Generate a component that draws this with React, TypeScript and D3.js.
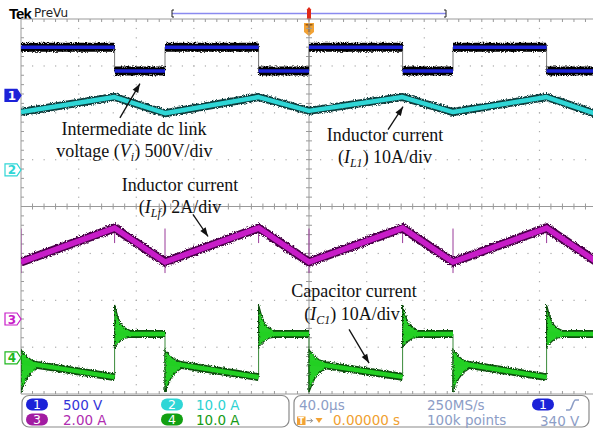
import React from 'react'
import * as d3 from 'd3'

// switching instants in the record, µs from the trigger point
const edgeTimes = [-200, -135, -100, -35, 0, 65, 100, 165, 200]

// channel settings: volts or amps per division, ground marker position (div)
const channelScales = [500, 10, 2, 10]
const channelOffsets = [2.37, 0.78, -2.4, -3.23]
const channelLabels = ['1', '2', '3', '4']
const channelSettings = ['500 V', '10.0 A', '2.00 A', '10.0 A']

// CH1 intermediate dc link voltage, one level per interval (V)
const ch1Levels = [515, 260, 515, 260, 515, 260, 515, 260]
// CH2 inductor current IL1 at each edge (A)
const ch2Values = [12.35, 15.55, 12.1, 15.55, 12.6, 15.55, 12.35, 15.55, 11.9]
// CH3 inductor current ILf at each edge (A), plus the small switching spikes
const ch3Values = [2.43, 3.88, 2.43, 3.88, 2.43, 3.88, 2.43, 3.88, 2.43]
const ch3SpikeTop = [3.86, 3.88, 3.86, 3.88, 3.86, 3.88, 3.86, 3.88, 3.86]
const ch3SpikeBottom = [1.96, 3.24, 1.96, 3.24, 1.96, 3.24, 1.96, 3.24, 1.96]
// CH4 capacitor current IC1, value at start and end of every interval (A)
const ch4Start = [-1.0, 5.1, -1.0, 5.1, -1.1, 5.1, -1.0, 5.1]
const ch4End = [-4.1, 5.1, -4.1, 5.1, -4.05, 5.1, -4.1, 5.1]
// ringing envelope after a CH4 step: µs after edge, upper and lower (A)
const ringT = [0, 0.6, 2, 4, 7, 11]
const riseRingHi = [11.3, 10.6, 9.0, 7.4, 6.4, 5.8]
const riseRingLo = [2.0, 2.6, 3.0, 3.6, 4.2, 4.4]
const fallRingHi = [1.8, 1.5, 1.0, 0.3, -0.4, -0.8]
const fallRingLo = [-7.3, -6.8, -5.8, -4.4, -3.2, -2.3]

// annotation texts, placed in (µs, div) coordinates
const notes = [
  { t: -121.5, d: 1.53, parts: [['Intermediate dc link', '']] },
  { t: -121.2, d: 1.06, parts: [['voltage (', ''], ['V', 'i'], ['i', 'sub'], [') 500V/div', '']] },
  { t: 52.8, d: 1.4, parts: [['Inductor current', '']] },
  { t: 52.8, d: 0.93, parts: [['(', ''], ['I', 'i'], ['L1', 'sub'], [') 10A/div', '']] },
  { t: -89.6, d: 0.34, parts: [['Inductor current', '']] },
  { t: -89.6, d: -0.13, parts: [['(', ''], ['I', 'i'], ['Lf', 'sub'], [') 2A/div', '']] },
  { t: 31.3, d: -1.94, parts: [['Capacitor current', '']] },
  { t: 29.9, d: -2.43, parts: [['(', ''], ['I', 'i'], ['C1', 'sub'], [') 10A/div', '']] },
]
// arrows: tail then head, (µs, div)
const arrows = [
  [-131.3, 1.89, -117.4, 2.62],
  [54.9, 1.64, 65.3, 2.13],
  [-80.6, -0.17, -70.1, -0.64],
  [27.8, -2.62, 41.7, -3.34],
]

const colors = ['#1c22d8', '#2fd6d6', '#c81cc8', '#1fb81f']
const darkBand = ['#000000', '#0d3d3d', '#4a0048', '#0b4d0b']

export default function App() {
  const W = 593
  const H = 432
  const x = d3.scaleLinear().domain([-200, 200]).range([21, 597])
  const y = d3.scaleLinear().domain([-4, 4]).range([394, 19])
  const cy = (ch: number, v: number) => y(v / channelScales[ch] + channelOffsets[ch])
  const line = (ch: number) =>
    d3.line<[number, number]>().x(d => x(d[0])).y(d => cy(ch, d[1]))

  const left = x(-200), right = x(200), top = y(4), bottom = y(-4)
  const dx = (x(40) - x(0)) / 5
  const dy = (y(0) - y(1)) / 5

  // graticule
  const grid: JSX.Element[] = []
  d3.range(1, 10).filter(i => i !== 5).forEach(i => {
    d3.range(1, 40).forEach(k => {
      grid.push(<rect key={'v' + i + '-' + k} x={x(-200 + 40 * i) - 0.5} y={top + k * dy - 0.5} width={1.2} height={1.2} fill="#ababab" />)
    })
  })
  d3.range(-3, 4).filter(j => j !== 0).forEach(j => {
    d3.range(1, 50).forEach(k => {
      grid.push(<rect key={'h' + j + '-' + k} x={left + k * dx - 0.5} y={y(j) - 0.5} width={1.2} height={1.2} fill="#ababab" />)
    })
  })
  const ticks: JSX.Element[] = []
  d3.range(1, 50).forEach(k => {
    const px = left + k * dx
    ticks.push(<line key={'ct' + k} x1={px} x2={px} y1={y(0) - 3} y2={y(0) + 3} />)
    ticks.push(<line key={'tt' + k} x1={px} x2={px} y1={top} y2={top + 3} />)
    ticks.push(<line key={'bt' + k} x1={px} x2={px} y1={bottom - 3} y2={bottom} />)
  })
  d3.range(1, 40).forEach(k => {
    const py = top + k * dy
    ticks.push(<line key={'cv' + k} x1={x(0) - 3} x2={x(0) + 3} y1={py} y2={py} />)
    ticks.push(<line key={'lt' + k} x1={left} x2={left + 3} y1={py} y2={py} />)
  })

  // CH1 square wave
  const ch1Segs = ch1Levels.map((v, i) => `M${x(edgeTimes[i])},${cy(0, v)}H${x(edgeTimes[i + 1])}`).join('')
  const ch1Edges = ch1Levels.slice(1).map((v, i) => (
    <line key={'e1' + i} x1={x(edgeTimes[i + 1])} x2={x(edgeTimes[i + 1])} y1={cy(0, ch1Levels[i])} y2={cy(0, v)} stroke="#777" strokeWidth={1} />
  ))

  const ch2Path = line(1)(edgeTimes.map((t, i) => [t, ch2Values[i]]))!
  const ch3Path = line(2)(edgeTimes.map((t, i) => [t, ch3Values[i]]))!
  const ch3Spikes = edgeTimes.map((t, i) => (
    <line key={'s3' + i} x1={x(t)} x2={x(t)} y1={cy(2, ch3SpikeTop[i])} y2={cy(2, ch3SpikeBottom[i])} stroke="#9a3a9a" strokeWidth={1} />
  ))

  // CH4
  const ch4Segs = ch4Start.map((v, i) => `M${x(edgeTimes[i] + 1)},${cy(3, v)}L${x(edgeTimes[i + 1])},${cy(3, ch4End[i])}`).join('')
  const ringArea = (edge: number, hi: number[], lo: number[]) =>
    d3.area<number>().x((_, k) => x(edge + ringT[k])).y0((_, k) => cy(3, lo[k])).y1((_, k) => cy(3, hi[k]))(ringT)!
  const rings: JSX.Element[] = []
  const ch4Edges: JSX.Element[] = []
  edgeTimes.slice(0, 8).forEach((t, i) => {
    const rise = i % 2 === 1
    const d = rise ? ringArea(t, riseRingHi, riseRingLo) : ringArea(t, fallRingHi, fallRingLo)
    rings.push(<path key={'r' + i} d={d} fill="#26d026" stroke={darkBand[3]} strokeWidth={1.2} />)
    if (i > 0) {
      ch4Edges.push(
        <line key={'e4' + i} x1={x(t)} x2={x(t)} y1={cy(3, ch4End[i - 1])} y2={cy(3, rise ? riseRingHi[0] : fallRingLo[0])} stroke="#3a8a3a" strokeWidth={1} />
      )
    }
  })

  const marker = (ch: number) => {
    const py = y(channelOffsets[ch])
    const filled = ch === 0
    return (
      <g key={'m' + ch}>
        <path d={`M5,${py - 6}H17L21,${py}L17,${py + 6}H5Z`} fill={filled ? colors[0] : '#fff'} stroke={colors[ch]} strokeWidth={1.2} />
        <text x={12} y={py + 4.5} textAnchor="middle" fontSize={12} fontWeight="bold" fill={filled ? '#fff' : colors[ch]} fontFamily="DejaVu Sans">{channelLabels[ch]}</text>
      </g>
    )
  }

  const arrowHead = (a: number[]) => {
    const x1 = x(a[0]), y1 = y(a[1]), x2 = x(a[2]), y2 = y(a[3])
    const ang = Math.atan2(y2 - y1, x2 - x1)
    const L = 9, w = 3.2
    const bx = x2 - L * Math.cos(ang), by = y2 - L * Math.sin(ang)
    const px = -Math.sin(ang) * w, py = Math.cos(ang) * w
    return `M${x2},${y2}L${bx + px},${by + py}L${bx - px},${by - py}Z`
  }

  const badge = (cx: number, cyy: number, label: string, fill: string) => (
    <g>
      <rect x={cx - 11} y={cyy - 6} width={22} height={12} rx={6} fill={fill} />
      <text x={cx} y={cyy + 4.5} textAnchor="middle" fontSize={12.5} fill="#fff" fontFamily="DejaVu Sans">{label}</text>
    </g>
  )

  const sans = 'DejaVu Sans'
  const gray = '#8c9dc6'

  return (
    <svg width={W} height={H} style={{ display: 'block' }}>
      <style>{`body{margin:0}`}</style>
      <defs>
        <filter id="fuzz" filterUnits="userSpaceOnUse" x={0} y={0} width={W} height={H}>
          <feTurbulence type="fractalNoise" baseFrequency="0.9" numOctaves={2} seed={4} result="n" />
          <feDisplacementMap in="SourceGraphic" in2="n" scale={4} xChannelSelector="R" yChannelSelector="G" />
        </filter>
        <clipPath id="plot">
          <rect x={left} y={top} width={right - left} height={bottom - top} />
        </clipPath>
      </defs>
      <rect width={W} height={H} fill="#fff" />

      {/* top bar */}
      <text x={9} y={18.5} fontSize={15} fontWeight="bold" fontFamily="Liberation Sans" letterSpacing={-1}>Tek</text>
      <text x={34} y={17} fontSize={12} fontFamily={sans} fill="#222">PreVu</text>
      <line x1={172} x2={446} y1={13.5} y2={13.5} stroke="#8a8af0" strokeWidth={1.4} />
      <path d="M174,10H172V17H174M444,10H446V17H444" fill="none" stroke="#222" strokeWidth={1} />
      <path d={`M${x(0) - 2},10H${x(0) + 2}V18H${x(0) - 2}Z`} fill="#e02a1a" />
      <path d={`M${x(0)},7L${x(0) + 2.5},10H${x(0) - 2.5}ZM${x(0)},21L${x(0) + 2.5},18H${x(0) - 2.5}Z`} fill="#e02a1a" />
      <path d={`M${x(0) - 5},23H${x(0) + 5}V32L${x(0)},36L${x(0) - 5},32Z`} fill="#f2a235" />
      <text x={x(0)} y={32} textAnchor="middle" fontSize={10} fontWeight="bold" fill="#9a5a10" fontFamily={sans}>T</text>

      {/* graticule */}
      {grid}
      <g stroke="#9a9a9a" strokeWidth={1}>
        <line x1={left} x2={right} y1={top} y2={top} />
        <line x1={left} x2={right} y1={bottom} y2={bottom} />
        <line x1={left} x2={left} y1={top} y2={bottom} />
        <line x1={left} x2={right} y1={y(0)} y2={y(0)} />
        <line x1={x(0)} x2={x(0)} y1={top} y2={bottom} />
        {ticks}
      </g>

      {/* traces */}
      <g clipPath="url(#plot)">
        {ch1Edges}
        <g filter="url(#fuzz)">
          <path d={ch1Segs} fill="none" stroke={darkBand[0]} strokeWidth={9} />
        </g>
        <path d={ch1Segs} fill="none" stroke={colors[0]} strokeWidth={3.5} />

        <g filter="url(#fuzz)">
          <path d={ch2Path} fill="none" stroke={darkBand[1]} strokeWidth={8} strokeLinejoin="round" />
        </g>
        <path d={ch2Path} fill="none" stroke={colors[1]} strokeWidth={4.5} strokeLinejoin="round" />

        {ch3Spikes}
        <g filter="url(#fuzz)">
          <path d={ch3Path} fill="none" stroke={darkBand[2]} strokeWidth={9} strokeLinejoin="miter" />
        </g>
        <path d={ch3Path} fill="none" stroke={colors[2]} strokeWidth={5.5} strokeLinejoin="miter" />

        {ch4Edges}
        <g filter="url(#fuzz)">
          <path d={ch4Segs} fill="none" stroke={darkBand[3]} strokeWidth={8} />
          {rings}
        </g>
        <path d={ch4Segs} fill="none" stroke="#22d022" strokeWidth={4.5} />
      </g>

      {[0, 1, 2, 3].map(marker)}

      {/* annotations */}
      {notes.map((n, i) => (
        <text key={'n' + i} x={x(n.t)} y={y(n.d)} textAnchor="middle" fontSize={18} fontFamily="Liberation Serif" fill="#111">
          {n.parts.map((p, k) => (
            <tspan key={k} fontStyle={p[1] ? 'italic' : 'normal'} fontSize={p[1] === 'sub' ? 12 : 18} dy={p[1] === 'sub' ? 4 : (k > 0 && n.parts[k - 1][1] === 'sub' ? -4 : 0)}>{p[0]}</tspan>
          ))}
        </text>
      ))}
      {arrows.map((a, i) => (
        <g key={'a' + i}>
          <line x1={x(a[0])} y1={y(a[1])} x2={x(a[2])} y2={y(a[3])} stroke="#111" strokeWidth={1.3} />
          <path d={arrowHead(a)} fill="#111" />
        </g>
      ))}

      {/* readout panel */}
      <rect x={22} y={395.5} width={267} height={31.5} rx={7} fill="#fff" stroke="#8a8a8a" strokeWidth={1.2} />
      <rect x={294} y={395.5} width={295} height={31.5} rx={7} fill="#fff" stroke="#8a8a8a" strokeWidth={1.2} />
      {badge(37, 404.5, '1', colors[0])}
      {badge(37, 419.5, '3', '#a21ca2')}
      {badge(172, 404.5, '2', colors[1])}
      {badge(172, 419.5, '4', '#12a012')}
      <text x={63} y={409.5} fontSize={13.5} fontFamily={sans} fill="#3434d8">{channelSettings[0]}</text>
      <text x={63} y={424.5} fontSize={13.5} fontFamily={sans} fill="#b02cb0">{channelSettings[2]}</text>
      <text x={196} y={409.5} fontSize={13.5} fontFamily={sans} fill="#2ed2d2">{channelSettings[1]}</text>
      <text x={196} y={424.5} fontSize={13.5} fontFamily={sans} fill="#149a14">{channelSettings[3]}</text>

      <text x={299} y={409.5} fontSize={13.5} fontFamily={sans} fill={gray}>40.0µs</text>
      <text x={427} y={409.5} fontSize={13.5} fontFamily={sans} fill={gray}>250MS/s</text>
      <text x={427} y={424.5} fontSize={13.5} fontFamily={sans} fill={gray}>100k points</text>
      {badge(543, 404.5, '1', colors[0])}
      <path d="M566,410H569.5C572,410 573,400 575.5,400H579" fill="none" stroke={gray} strokeWidth={1.6} />
      <text x={540} y={425.5} fontSize={13.5} fontFamily={sans} fill={gray}>340 V</text>
      <rect x={297} y={416.5} width={8.5} height={8.5} fill="#f2a235" />
      <text x={301.2} y={424} textAnchor="middle" fontSize={8} fontWeight="bold" fill="#fff" fontFamily={sans}>T</text>
      <path d="M306.5,420.7H312.5M310.5,418.7L312.5,420.7L310.5,422.7" fill="none" stroke="#888" strokeWidth={1} />
      <path d="M315.5,418H322.5L319,423Z" fill="#f2a235" />
      <text x={333} y={424.5} fontSize={13.5} fontFamily={sans} fill="#f0a030">0.00000 s</text>
    </svg>
  )
}
